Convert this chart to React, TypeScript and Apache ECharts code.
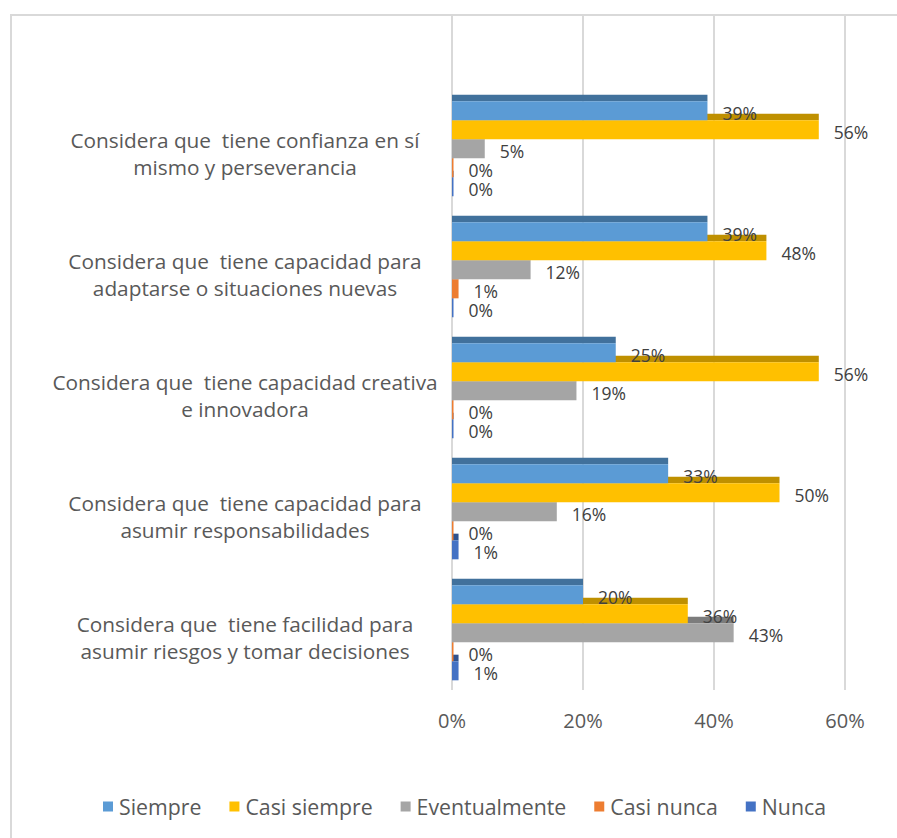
import React, { useEffect, useRef } from "react";
import * as echarts from "echarts";

const categories = [
  "Considera que  tiene confianza en sí\nmismo y perseverancia",
  "Considera que  tiene capacidad para\nadaptarse o situaciones nuevas",
  "Considera que  tiene capacidad creativa\ne innovadora",
  "Considera que  tiene capacidad para\nasumir responsabilidades",
  "Considera que  tiene facilidad para\nasumir riesgos y tomar decisiones",
];

const seriesNames = ["Siempre", "Casi siempre", "Eventualmente", "Casi nunca", "Nunca"];
const siempre = [39, 39, 25, 33, 20];
const casiSiempre = [56, 48, 56, 50, 36];
const eventualmente = [5, 12, 19, 16, 43];
const casiNunca = [0, 1, 0, 0, 0];
const nunca = [0, 0, 0, 1, 1];
const seriesValues = [siempre, casiSiempre, eventualmente, casiNunca, nunca];

const xTicks = [0, 20, 40, 60];

const frontColors = ["#5B9BD5", "#FFC000", "#A5A5A5", "#ED7D31", "#4472C4"];
const topColors = ["#41719C", "#BF9000", "#7C7C7C", "#AE5A21", "#2F528F"];

const FONT = "'Open Sans', 'Noto Sans', sans-serif";

export default function App() {
  const ref = useRef<HTMLDivElement>(null);

  useEffect(() => {
    if (!ref.current) return;
    const chart = echarts.init(ref.current, undefined, { renderer: "svg" });

    const makeRender = (k: number) => (params: any, api: any) => {
      const v = api.value(0);
      const ci = api.value(1);
      const p0 = api.coord([0, ci]);
      const p1 = api.coord([v, ci]);
      const band = api.size([0, 1])[1];
      const s = band * 0.157;
      const d = band * 0.055;
      const top = p0[1] - (5 * s + d) / 2;
      const y0 = top + d + k * s;
      const w = Math.max(p1[0] - p0[0], 1.5);
      return {
        type: "group",
        children: [
          {
            type: "rect",
            shape: { x: p0[0], y: y0 - d, width: w, height: d },
            style: { fill: topColors[k] },
          },
          {
            type: "rect",
            shape: { x: p0[0], y: y0, width: w, height: s },
            style: { fill: frontColors[k] },
          },
          {
            type: "text",
            x: p0[0] + w + 15,
            y: y0 + s / 2 + 2,
            style: {
              text: v + "%",
              fill: "#404040",
              fontSize: 17.5,
              fontFamily: FONT,
              align: "left",
              verticalAlign: "middle",
            },
          },
        ],
      };
    };

    const series: any[] = seriesNames.map((name, k) => ({
      name,
      type: "custom",
      xAxisIndex: 1,
      yAxisIndex: 1,
      z: 10 - k,
      itemStyle: { color: frontColors[k] },
      encode: { x: 0, y: 1 },
      data: seriesValues[k].map((v, i) => [v, i]),
      renderItem: makeRender(k),
    }));

    chart.setOption({
      animation: false,
      grid: [
        { left: 452, right: 52, top: 15, bottom: 148 },
        { left: 452, right: 52, top: 85, bottom: 148 },
        { left: 452, right: 52, top: 93, bottom: 140 },
      ],
      xAxis: [
        {
          type: "value",
          gridIndex: 0,
          min: xTicks[0],
          max: xTicks[xTicks.length - 1],
          interval: 20,
          axisLine: { show: false },
          axisTick: { show: false },
          splitLine: { show: true, lineStyle: { color: "#D9D9D9", width: 2 } },
          axisLabel: {
            formatter: "{value}%",
            fontSize: 20,
            color: "#595959",
            fontFamily: FONT,
            margin: 20,
          },
        },
        {
          type: "value",
          gridIndex: 1,
          min: xTicks[0],
          max: xTicks[xTicks.length - 1],
          show: false,
        },
        {
          type: "value",
          gridIndex: 2,
          min: xTicks[0],
          max: xTicks[xTicks.length - 1],
          show: false,
        },
      ],
      yAxis: [
        { type: "value", gridIndex: 0, show: false },
        {
          type: "category",
          gridIndex: 1,
          inverse: true,
          data: categories,
          axisLine: { show: false },
          axisTick: { show: false },
          splitLine: { show: false },
          axisLabel: { show: false },
        },
        {
          type: "category",
          gridIndex: 2,
          inverse: true,
          data: categories,
          axisLine: { show: false },
          axisTick: { show: false },
          splitLine: { show: false },
          axisLabel: {
            fontSize: 20.8,
            color: "#595959",
            fontFamily: FONT,
            align: "center",
            margin: 207,
            lineHeight: 27,
          },
        },
      ],
      legend: {
        data: seriesNames,
        left: 98,
        top: 791,
        icon: "rect",
        itemWidth: 10,
        itemHeight: 10,
        itemGap: 28,
        textStyle: { fontSize: 21.3, color: "#595959", fontFamily: FONT, padding: [0, 0, 0, 1] },
      },
      series,
    });

    return () => chart.dispose();
  }, []);

  return (
    <div style={{ position: "fixed", left: 0, top: 0, width: 897, height: 838, background: "#fff" }}>
      <div
        style={{
          position: "absolute",
          left: 10,
          top: 14,
          width: 900,
          height: 840,
          borderTop: "2px solid #D9D9D9",
          borderLeft: "2px solid #D9D9D9",
          boxSizing: "border-box",
        }}
      />
      <div ref={ref} style={{ position: "absolute", left: 0, top: 0, width: 897, height: 838 }} />
    </div>
  );
}
